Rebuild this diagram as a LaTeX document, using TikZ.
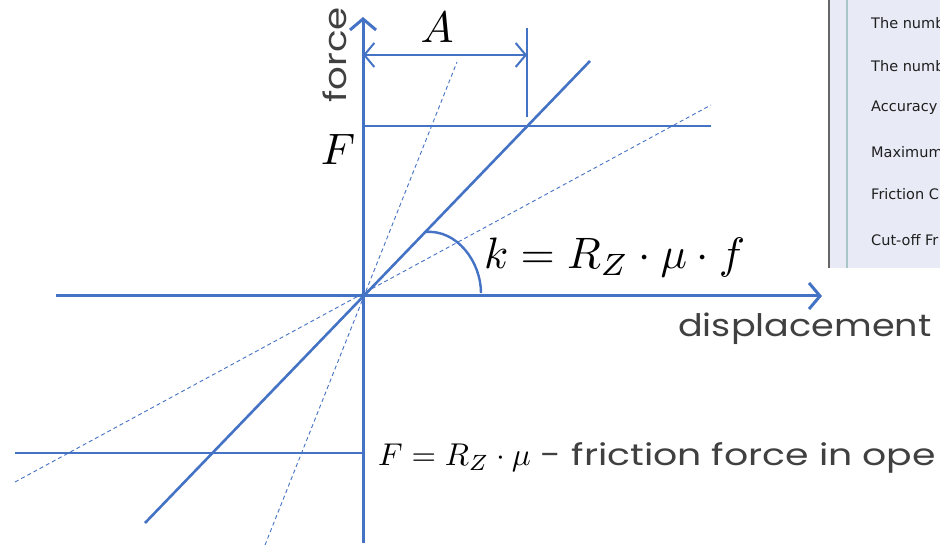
\documentclass[tikz,border=0pt]{standalone}
\usepackage{fontspec}
\usepackage{graphicx}
\usetikzlibrary{arrows.meta}
\newfontfamily\labfont{Poppins}
\newfontfamily\uifont{DejaVu Sans}
\definecolor{lineblue}{HTML}{4472C4}
\definecolor{labgray}{HTML}{404040}
\definecolor{panelbg}{HTML}{E8EAF6}
\definecolor{panelline}{HTML}{A9C6C6}
\newcommand{\bigmath}[1]{\scalebox{4.4}{$#1$}}
\newcommand{\midmath}[1]{\scalebox{3.15}{$#1$}}
\begin{document}
\begin{tikzpicture}[x=1pt,y=-1pt,
  axis/.style={draw=lineblue,line width=3pt},
  thick line/.style={draw=lineblue,line width=2.6pt},
  dash line/.style={draw=lineblue,line width=0.9pt,dash pattern=on 4pt off 3pt},
  thin line/.style={draw=lineblue,line width=1.3pt},
  barb/.style={-{Straight Barb[length=11pt,width=26pt]}},
  mathlab/.style={inner sep=0pt},
  graylab/.style={inner sep=0pt,text=labgray,font=\labfont\fontsize{31}{31}\selectfont},
  uitext/.style={anchor=west,inner sep=0pt,text=black!88,font=\uifont\fontsize{14.5}{15}\selectfont}]
\useasboundingbox (0,0) rectangle (940,545);
\clip (0,0) rectangle (940,545);
% coordinates
\coordinate (O) at (363,296);
\coordinate (yb) at (363,543);
\coordinate (yt) at (363,17);
\coordinate (xl) at (56,296);
\coordinate (xr) at (822,296);
\coordinate (Fl) at (363,126);
\coordinate (Fr) at (711,126);
\coordinate (nFl) at (15,453);
\coordinate (nFr) at (363,453);
\coordinate (m1) at (145,523);
\coordinate (m2) at (590,61);
\coordinate (s1) at (265,545);
\coordinate (s2) at (457,62);
\coordinate (h1) at (15,482);
\coordinate (h2) at (711,105);
\coordinate (Aa) at (363,55);
\coordinate (Ab) at (527,55);
\coordinate (At) at (527,28);
\coordinate (Abot) at (527,117);
\coordinate (arcS) at (425,232);
\coordinate (arcE) at (481,293);
% right panel
\fill[panelbg] (829,0) rectangle (940,268);
\draw[gray!80!black,line width=2pt] (829,0) -- (829,268);
\draw[panelline,line width=1.2pt] (847,0) -- (847,268);
\node[uitext] (p1) at (871,23) {The numb};
\node[uitext] (p2) at (871,66) {The numb};
\node[uitext] (p3) at (871,108) {Accuracy};
\node[uitext] (p4) at (871,152) {Maximum};
\node[uitext] (p5) at (871,194) {Friction C};
\node[uitext] (p6) at (871,240) {Cut-off Fr};
% lines
\draw[dash line] (s1) -- (s2);
\draw[dash line] (h1) -- (h2);
\draw[thick line] (Fl) -- (Fr);
\draw[thick line] (nFl) -- (nFr);
\draw[thick line] (m1) -- (m2);
\draw[axis,barb] (xl) -- (xr);
\draw[axis,barb] (yb) -- (yt);
\draw[thin line] (At) -- (Abot);
\draw[draw=lineblue,line width=2pt,{Straight Barb[length=10pt,width=24pt]}-{Straight Barb[length=10pt,width=24pt]}] (Aa) -- (Ab);
\draw[draw=lineblue,line width=2.4pt] (arcS) .. controls (457,229) and (481,262) .. (arcE);
% labels
\node[mathlab] (Alab) at (437,27) {\bigmath{A}};
\node[mathlab] (Flab) at (338,149) {\bigmath{F}};
\node[mathlab,anchor=west] (klab) at (484,258) {\bigmath{k=R_Z\cdot\mu\cdot f}};
\node[graylab,rotate=90] (force) at (335,55) {\scalebox{1.2}[1]{force}};
\node[graylab,anchor=west] (disp) at (678,329) {\scalebox{1.18}[1]{displacement}};
\node[anchor=west,inner sep=0pt] (flab) at (378,458) {\midmath{F=R_Z\cdot\mu}\hspace{10pt}{\labfont\fontsize{30}{30}\selectfont\color{labgray}\scalebox{1.26}[1]{- friction force in ope}}};
\end{tikzpicture}
\end{document}
